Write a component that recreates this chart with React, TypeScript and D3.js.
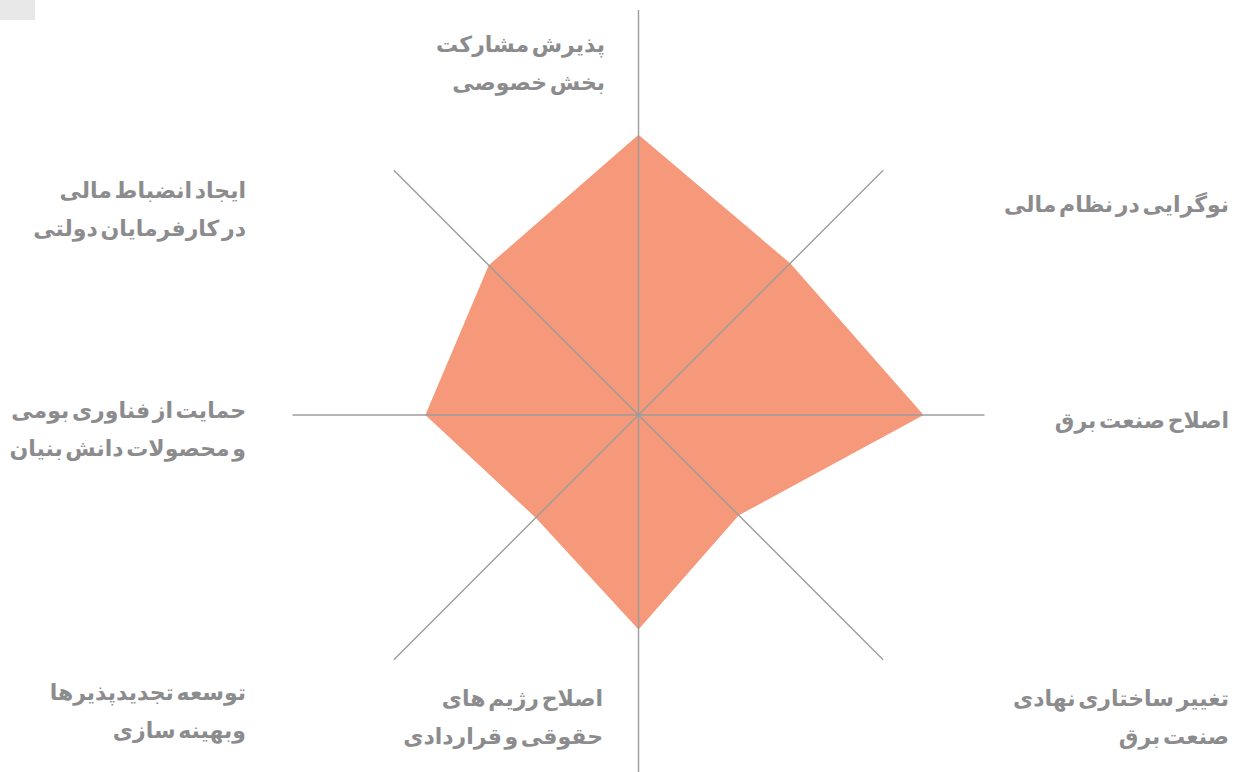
import React from "react";
import * as d3 from "d3";

const categories: string[][] = [
  ["پذیرش مشارکت", "بخش خصوصی"],
  ["نوگرایی در نظام مالی"],
  ["اصلاح صنعت برق"],
  ["تغییر ساختاری نهادی", "صنعت برق"],
  ["اصلاح رژیم های", "حقوقی و قراردادی"],
  ["توسعه تجدیدپذیرها", "وبهینه سازی"],
  ["حمایت از فناوری بومی", "و محصولات دانش بنیان"],
  ["ایجاد انضباط مالی", "در کارفرمایان دولتی"],
];
const values: number[] = [4.05, 3.1, 4.12, 2.05, 3.1, 2.1, 3.08, 3.06];
const maxValue = 5;

const W = 1236;
const H = 772;
const cx = 638.5;
const cy = 415;
const R = 346;

// label anchors: right edge x, first-line baseline y
const labelPos: [number, number][] = [
  [605, 52],
  [1229, 212],
  [1229, 428],
  [1229, 706],
  [603, 706],
  [246, 700],
  [246, 418],
  [246, 198],
];

export default function App() {
  const r = d3.scaleLinear().domain([0, maxValue]).range([0, R]);
  const n = categories.length;
  const angle = (i: number) => (i * 2 * Math.PI) / n;
  const pts: [number, number][] = values.map((v, i) => [
    cx + r(v) * Math.sin(angle(i)),
    cy - r(v) * Math.cos(angle(i)),
  ]);
  const poly = d3.line().curve(d3.curveLinearClosed)(pts) as string;
  const lineH = 38;

  return (
    <svg
      width={W}
      height={H}
      style={{ position: "absolute", left: 0, top: 0, background: "#fff" }}
    >
      <rect x={0} y={0} width={35} height={20} fill="#e8e8e8" />
      <path d={poly} fill="#f5997a" />
      {categories.map((_, i) => {
        const a = angle(i);
        if (i % 4 === 0) {
          return null;
        }
        return (
          <line
            key={"ax" + i}
            x1={cx}
            y1={cy}
            x2={cx + R * Math.sin(a)}
            y2={cy - R * Math.cos(a)}
            stroke="#9c9c9c"
            strokeWidth={1.4}
          />
        );
      })}
      <line x1={cx} y1={10} x2={cx} y2={H} stroke="#9c9c9c" strokeWidth={1.4} />
      {categories.map((lines, i) => (
        <text
          key={"lb" + i}
          x={labelPos[i][0]}
          y={labelPos[i][1]}
          textAnchor="end"
          fill="#8c8c8e"
          fontFamily="'DejaVu Sans', sans-serif"
          fontWeight="bold"
          fontSize={22}
          wordSpacing={-5}
        >
          {lines.map((l, j) => (
            <tspan key={j} x={labelPos[i][0]} dy={j === 0 ? 0 : lineH}>
              {l}
            </tspan>
          ))}
        </text>
      ))}
    </svg>
  );
}
